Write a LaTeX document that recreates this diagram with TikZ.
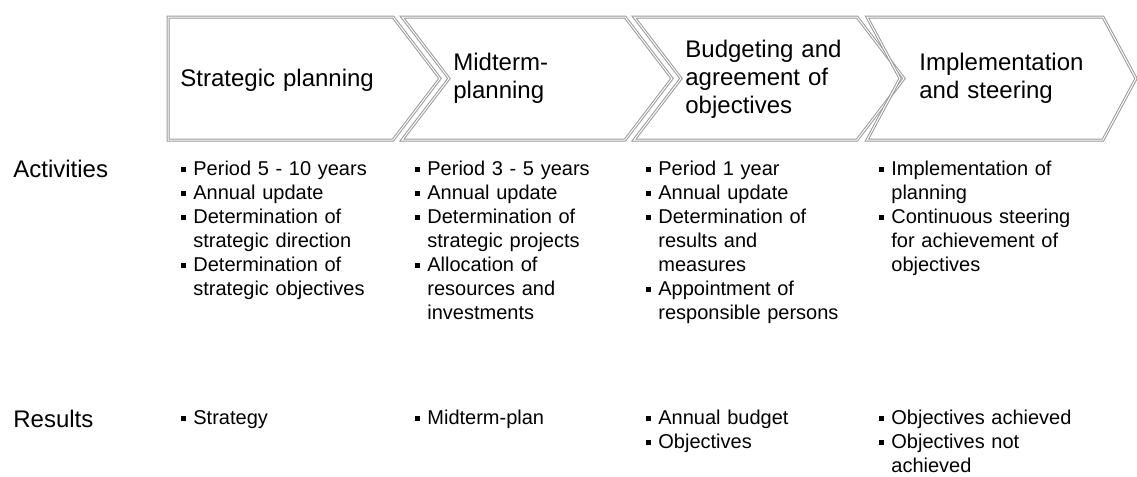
\documentclass[tikz,border=0pt]{standalone}
\usepackage{fontspec}
\setmainfont{Liberation Sans}

% bullet and hanging indent for the list lines
\newcommand{\bul}{\makebox[6pt][l]{\rule[0.3ex]{2.4pt}{2.4pt}}}
\newcommand{\ind}{\hspace*{6pt}}

\tikzset{
  chevron/.style={draw=gray!80, double=white, double distance=0.5pt, line width=0.5pt, line join=miter},
  headtext/.style={anchor=base west, inner sep=0pt, align=left, text width=110pt,
    font=\fontsize{12}{14}\selectfont},
  rowlabel/.style={anchor=base west, inner sep=0pt, font=\fontsize{12}{14}\selectfont},
  itemtext/.style={anchor=base west, inner sep=0pt, align=left, text width=110pt,
    font=\fontsize{10}{12}\selectfont}
}

\begin{document}
\begin{tikzpicture}[x=0.5pt, y=-0.5pt]
    \useasboundingbox (0,0) rectangle (1137,477);

    % Draw the process chevrons
    \draw[chevron] (168,17) -- (393,17) -- (440,78.5) -- (393,140) -- (168,140) -- cycle;
    \draw[chevron] (402,17) -- (625,17) -- (672,78.5) -- (625,140) -- (402,140) -- (449,78.5) -- cycle;
    \draw[chevron] (634,17) -- (857,17) -- (904,78.5) -- (857,140) -- (634,140) -- (681,78.5) -- cycle;
    \draw[chevron] (867,17) -- (1103,17) -- (1136,78.5) -- (1103,140) -- (867,140) -- (900,78.5) -- cycle;

    % Draw the phase titles
    \node[headtext] (h1) at (180,86) {Strategic planning};
    \node[headtext] (h2) at (453,70) {Midterm-\\planning};
    \node[headtext] (h3) at (685,57) {Budgeting and\\agreement of\\objectives};
    \node[headtext] (h4) at (919,70) {Implementation\\and steering};

    % Draw the row labels
    \node[rowlabel] (act) at (13,177) {Activities};
    \node[rowlabel] (res) at (13,427) {Results};

    % Draw the activities of each phase
    \node[itemtext] (a1) at (181,175) {\bul Period 5 - 10 years\\\bul Annual update\\\bul Determination of\\\ind strategic direction\\\bul Determination of\\\ind strategic objectives};
    \node[itemtext] (a2) at (415,175) {\bul Period 3 - 5 years\\\bul Annual update\\\bul Determination of\\\ind strategic projects\\\bul Allocation of\\\ind resources and\\\ind investments};
    \node[itemtext] (a3) at (646,175) {\bul Period 1 year\\\bul Annual update\\\bul Determination of\\\ind results and\\\ind measures\\\bul Appointment of\\\ind responsible persons};
    \node[itemtext] (a4) at (879,175) {\bul Implementation of\\\ind planning\\\bul Continuous steering\\\ind for achievement of\\\ind objectives};

    % Draw the results of each phase
    \node[itemtext] (r1) at (181,424) {\bul Strategy};
    \node[itemtext] (r2) at (415,424) {\bul Midterm-plan};
    \node[itemtext] (r3) at (646,424) {\bul Annual budget\\\bul Objectives};
    \node[itemtext] (r4) at (879,424) {\bul Objectives achieved\\\bul Objectives not\\\ind achieved};
\end{tikzpicture}
\end{document}
